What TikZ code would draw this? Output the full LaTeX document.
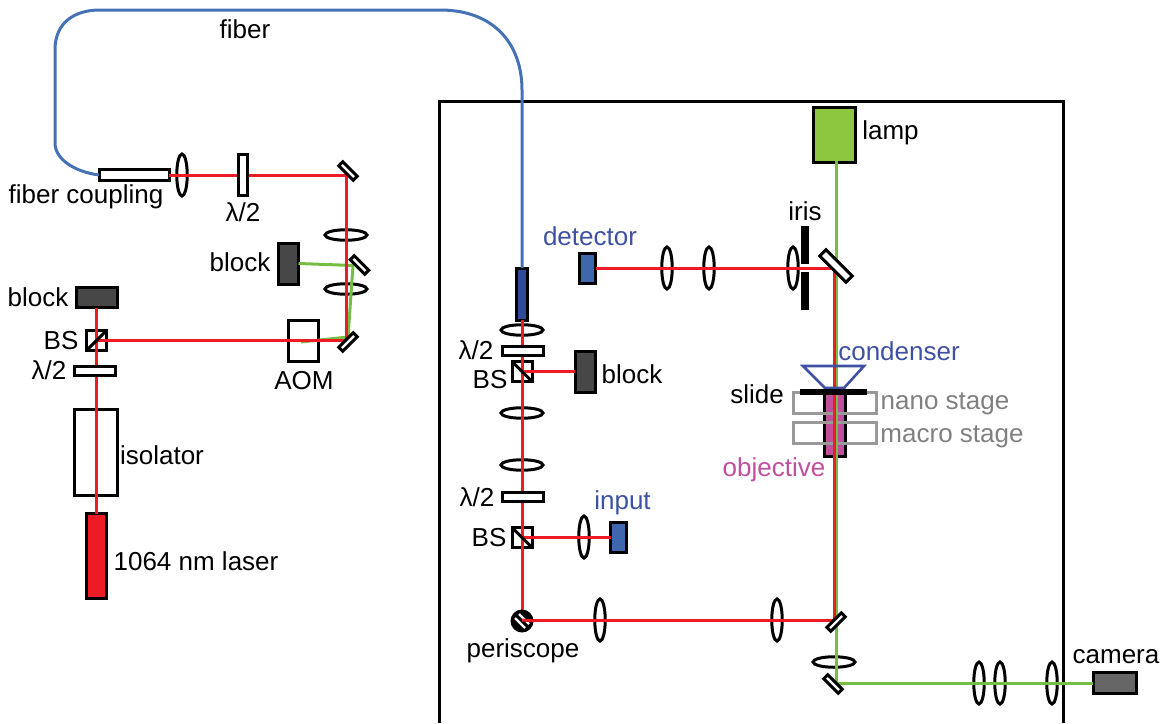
\documentclass[tikz,border=0pt]{standalone}
\usepackage{fontspec}
\usepackage{xcolor}
\setmainfont{Liberation Sans}
\usetikzlibrary{shapes.geometric}
\definecolor{beamred}{HTML}{ED1C24}
\definecolor{beamgreen}{HTML}{76BD43}
\definecolor{lampgreen}{HTML}{8DC63F}
\definecolor{fiberblue}{HTML}{4472B4}
\definecolor{partblue}{HTML}{3F67AE}
\definecolor{textblue}{HTML}{3F51A3}
\definecolor{darkblue}{HTML}{2E4C9B}
\definecolor{stagegray}{HTML}{999999}
\definecolor{pinkobj}{HTML}{C04F9E}
\tikzset{
  lbl/.style={font=\fontsize{26}{28}\selectfont, inner sep=0pt},
  part/.style={draw=black, line width=3pt, inner sep=0pt, outer sep=0pt},
  vlens/.style={part, ellipse, minimum width=10.5pt, minimum height=42pt},
  hlens/.style={part, ellipse, minimum width=42pt, minimum height=10.5pt},
  plate/.style={part, fill=white, minimum width=41pt, minimum height=9pt},
  mirrorbox/.style={part, fill=white, minimum width=20.5pt, minimum height=5.5pt},
  cube/.style={part, minimum width=20pt, minimum height=20pt},
  blockbox/.style={part, fill=black!72, minimum width=20pt, minimum height=41pt},
  redbeam/.style={beamred, line width=3pt},
  greenbeam/.style={beamgreen, line width=3pt}
}
\begin{document}
\begin{tikzpicture}[x=1pt,y=-1pt]
    \useasboundingbox (0,0) rectangle (1170,723);

    % Enclosure
    \draw[line width=3pt] (439.5,723) -- (439.5,101.5) -- (1063,101.5) -- (1063,723);

    % Lower table, open parts
    \node[part, minimum width=30pt, minimum height=41pt] (aom) at (303,341) {};
    \node[part, minimum width=43pt, minimum height=86pt] (isolator) at (96,452.5) {};
    \node[cube] (bsa) at (96.5,340.5) {};
    \node[vlens] (lensa) at (182,175) {};
    \node[hlens] (lensb) at (346,235) {};
    \node[hlens] (lensc) at (346,289) {};

    % Microscope, open parts
    \node[hlens] (lensd) at (522,330) {};
    \node[hlens] (lense) at (522,413) {};
    \node[hlens] (lensf) at (522,465) {};
    \node[cube] (bsb) at (522,371.5) {};
    \node[cube] (bsc) at (522,537.5) {};
    \node[vlens] (lensg) at (584,537) {};
    \node[vlens] (lensh) at (667,268) {};
    \node[vlens] (lensi) at (709,268) {};
    \node[vlens] (lensj) at (793,268) {};
    \node[vlens] (lensk) at (600,620) {};
    \node[vlens] (lensl) at (777,620) {};
    \node[hlens] (lensm) at (834,662) {};
    \node[vlens] (lensn) at (979,683) {};
    \node[vlens] (lenso) at (1000,683) {};
    \node[vlens] (lensp) at (1052,683) {};

    % Blocks, sources and detectors
    \node[blockbox] (blocka) at (288.5,263.5) {};
    \node[blockbox, minimum width=41pt, minimum height=20pt] (blockb) at (96.5,297.5) {};
    \node[blockbox] (blockc) at (585,371.5) {};
    \node[part, fill=beamred, minimum width=20pt, minimum height=85pt] (laser) at (96.5,556) {};
    \node[part, fill=partblue, minimum width=16pt, minimum height=30pt] (detector) at (587.5,268) {};
    \node[part, fill=partblue, minimum width=16pt, minimum height=30pt] (input) at (618.5,537.5) {};
    \node[part, fill=lampgreen, minimum width=42pt, minimum height=55pt] (lamp) at (834.5,135) {};
    \node[part, fill=black!60, minimum width=43pt, minimum height=21pt] (camera) at (1114.5,683) {};
    \node[part, fill=darkblue, minimum width=11pt, minimum height=52pt] (fiberend) at (522,294) {};
    \node[part, fill=white, minimum width=70pt, minimum height=11pt] (coupling) at (134,175) {};

    % Objective and stages
    \node[part, fill=pinkobj, minimum width=21pt, minimum height=66pt] (objective) at (834.5,423) {};
    \node[part, draw=stagegray, minimum width=83pt, minimum height=21pt] (nano) at (834.5,403) {};
    \node[part, draw=stagegray, minimum width=83pt, minimum height=21pt] (macro) at (834.5,433) {};

    % Beam corners
    \coordinate (cornera) at (346,175);
    \coordinate (cornerb) at (346,340.5);
    \coordinate (cornerc) at (834.5,268);
    \coordinate (cornerd) at (834.5,620);
    \coordinate (cornere) at (836.5,683);
    \coordinate (cornerf) at (353,265.5);
    \coordinate (cornerg) at (348,337);
    \coordinate (aomspot) at (301,342);
    \coordinate (perispot) at (522,620);
    \coordinate (lampfoot) at (836.5,161);

    % Fiber
    \draw[fiberblue, line width=3pt] (coupling.west) .. controls (76,172) and (55,160) .. (55,143)
        -- (55,50) .. controls (55,22) and (75,10) .. (100,10) -- (440,10)
        .. controls (495,10) and (522,45) .. (522,90) -- (fiberend.north);

    % Green beams
    \draw[greenbeam] (lampfoot) -- (cornere) -- (camera.west);
    \draw[greenbeam] (blocka.east) -- (cornerf) -- (cornerg) -- (aomspot);

    % Red beams
    \draw[redbeam] (coupling.east) -- (cornera) -- (cornerb) -- (bsa.center);
    \draw[redbeam] (blockb.south) -- (laser.north);
    \draw[redbeam] (fiberend.south) -- (perispot) -- (cornerd);
    \draw[redbeam] (bsb.center) -- (blockc.west);
    \draw[redbeam] (bsc.center) -- (input.west);
    \draw[redbeam] (detector.east) -- (cornerc) -- (cornerd);

    % Condenser and slide
    \draw[textblue, line width=2.6pt] (803,366) -- (864,366) -- (844,388) -- (825,388) -- cycle;
    \node[part, fill=black, minimum width=64pt, minimum height=3pt] (slide) at (833,391.5) {};

    % Splitter diagonals
    \draw[line width=3pt] (bsa.south west) -- (bsa.north east);
    \draw[line width=3pt] (bsb.north west) -- (bsb.south east);
    \draw[line width=3pt] (bsc.north west) -- (bsc.south east);

    % Plates and mirrors
    \node[plate, minimum width=9pt, minimum height=41pt] (platea) at (242.5,175) {};
    \node[plate] (plateb) at (95,370.5) {};
    \node[plate] (platec) at (522.5,351) {};
    \node[plate] (plated) at (522.5,496.5) {};
    \node[mirrorbox, rotate=-45] (mirrora) at (348,171) {};
    \node[mirrorbox, rotate=-45] (mirrorb) at (359.5,265) {};
    \node[mirrorbox, rotate=45] (mirrorc) at (348,342) {};
    \node[mirrorbox, rotate=45] (mirrord) at (836,622) {};
    \node[mirrorbox, rotate=-45] (mirrore) at (833,684) {};
    \node[mirrorbox, rotate=-45, minimum width=37pt, minimum height=9pt] (mirrorf) at (836,266) {};

    % Iris
    \node[fill=black, minimum width=8pt, minimum height=38pt, inner sep=0pt] (irisa) at (805,245) {};
    \node[fill=black, minimum width=8pt, minimum height=38pt, inner sep=0pt] (irisb) at (805,291) {};

    % Periscope
    \node[circle, fill=black, minimum size=23pt, inner sep=0pt] (periscope) at (522,621) {};
    \draw[white, line width=2.2pt] ([shift={(-7,-3)}]periscope.center) -- ([shift={(3,7)}]periscope.center);
    \draw[white, line width=2.2pt] ([shift={(-3,-7)}]periscope.center) -- ([shift={(7,3)}]periscope.center);
    \draw[redbeam] (perispot) -- (periscope.east);

    % Labels
    \node[lbl] (fibertext) at (245,29) {fiber};
    \node[lbl] (couplingtext) at (86,197) {fiber coupling};
    \node[lbl] (platetexta) at (243,212) {λ/2};
    \node[lbl] (blocktexta) at (240,262) {block};
    \node[lbl] (blocktextb) at (38,297) {block};
    \node[lbl] (bstexta) at (61,341) {BS};
    \node[lbl] (platetextb) at (49,370) {λ/2};
    \node[lbl] (aomtext) at (304,381) {AOM};
    \node[lbl] (isolatortext) at (162,455) {isolator};
    \node[lbl] (lasertext) at (196,561) {1064 nm laser};
    \node[lbl] (peritext) at (523,651) {periscope};
    \node[lbl] (platetextc) at (476,350) {λ/2};
    \node[lbl] (bstextb) at (490,380) {BS};
    \node[lbl] (blocktextc) at (632,374) {block};
    \node[lbl] (platetextd) at (477,497) {λ/2};
    \node[lbl] (bstextc) at (489,538) {BS};
    \node[lbl, text=textblue] (inputtext) at (622.5,503) {input};
    \node[lbl, text=textblue] (detectortext) at (590,236) {detector};
    \node[lbl] (iristext) at (805,211) {iris};
    \node[lbl] (lamptext) at (890.5,133) {lamp};
    \node[lbl, text=textblue] (condensertext) at (899,351) {condenser};
    \node[lbl] (slidetext) at (757,394) {slide};
    \node[lbl, text=gray] (nanotext) at (945,404) {nano stage};
    \node[lbl, text=gray] (macrotext) at (952,437) {macro stage};
    \node[lbl, text=pinkobj] (objectivetext) at (774,470) {objective};
    \node[lbl] (cameratext) at (1116,657) {camera};
\end{tikzpicture}
\end{document}
